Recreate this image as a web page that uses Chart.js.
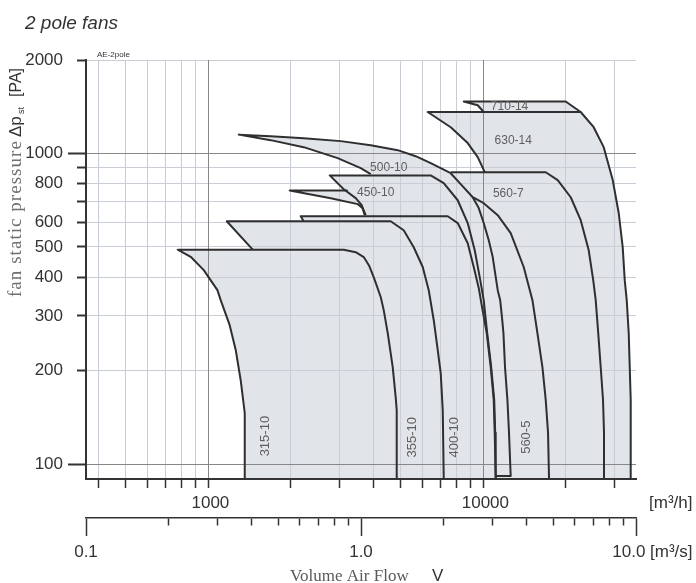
<!DOCTYPE html>
<html>
<head>
<meta charset="utf-8">
<title>2 pole fans</title>
<script src="https://cdn.jsdelivr.net/npm/chart.js@4.4.1/dist/chart.umd.min.js"></script>
<style>
  html, body { margin: 0; padding: 0; background: #ffffff; }
  #wrap { width: 696px; height: 583px; position: relative; }
</style>
</head>
<body>
<div id="wrap"><canvas id="chart" width="696" height="583"></canvas></div>
<script>
// ---- axis ticks -------------------------------------------------------
const flowTicks = [400, 500, 600, 700, 800, 900, 1000, 2000, 3000, 4000, 5000, 6000, 7000, 8000, 9000, 10000, 20000, 30000];
const flowTickLabels = { 1000: ' 1000', 10000: ' 10000' };
const flowSecondTicks = [0.1, 0.2, 0.3, 0.4, 0.5, 0.6, 0.7, 0.8, 0.9, 1, 2, 3, 4, 5, 6, 7, 8, 9, 10];
const flowSecondTickLabels = { 0.1: '0.1', 1: '1.0', 10: '10.0   ' };
const pressureTicks = [100, 200, 300, 400, 500, 600, 700, 800, 900, 1000, 2000];
const pressureTickLabels = { 100: '100', 200: '200', 300: '300', 400: '400', 500: '500', 600: '600', 800: '800', 1000: '1000', 2000: '2000' };

// ---- fan fields: [volume flow m³/h, static pressure Pa] ---------------
// stall = left limit from its tip downwards, curve = top edge + max curve
const fan315_10_stall = [[776, 490], [865, 465], [965, 421], [1082, 363], [1112, 337], [1199, 280], [1261, 233], [1315, 186], [1360, 146], [1360, 90]];
const fan315_10_curve = [[3115, 490], [3444, 481], [3684, 464], [3850, 436], [4004, 400], [4246, 345], [4354, 313], [4503, 264], [4695, 205], [4814, 164], [4855, 149], [4855, 90]];

const fan355_10_stall = [[1170, 605], [1454, 490]];
const fan355_10_curve = [[4617, 605], [5147, 566], [5598, 499], [6036, 431], [6347, 363], [6618, 291], [6844, 233], [7018, 196], [7138, 149], [7197, 90]];

const fan400_10_stall = [[2173, 628], [2228, 605]];
const fan400_10_curve = [[7441, 628], [8091, 597], [8798, 514], [9252, 431], [9647, 369], [9890, 325], [10315, 264], [10666, 205], [10936, 161], [11028, 126], [11121, 90]];

const fan450_10_stall = [[1982, 760], [2795, 718], [3503, 687], [3652, 667], [3745, 633]];
const fan450_10_topEnd = [3221, 760];
const fan450_10_curve = [[9174, 723], [9647, 667], [10058, 597], [10489, 526], [10846, 464], [11310, 363], [11547, 337], [11745, 291], [11865, 264], [12023, 205], [12266, 161], [12431, 126], [12609, 91.5], [11121, 91.5]];

const fan500_10_stall = [[2771, 850], [3115, 767], [3444, 718], [3622, 682], [3714, 633]];
const fan500_10_curve = [[6454, 850], [7197, 803], [8091, 707], [8798, 597], [9329, 488], [9727, 400], [10058, 337], [10358, 264], [10710, 205], [10983, 161], [11075, 126], [11121, 90]];

const fan560_5_stall = [[1293, 1150], [1690, 1104], [2228, 1048], [2962, 966], [3592, 897], [3905, 858]];
const fan560_5_curve = [[1293, 1150], [1690, 1137], [2228, 1120], [3038, 1096], [3905, 1063], [4896, 1025], [5692, 980], [6454, 931], [7018, 897], [7630, 864], [8297, 797], [9174, 723], [10058, 692], [11310, 633], [12609, 554], [14060, 431], [15125, 337], [15770, 264], [16444, 205], [16904, 161], [17237, 126], [17378, 90]];

const fan560_7_stall = [[7630, 870]];
const fan560_7_curve = [[16904, 870], [18690, 821], [20840, 723], [22660, 610], [24230, 488], [25160, 391], [25690, 337], [26240, 264], [26790, 205], [27310, 161], [27540, 126], [27540, 90]];

const fan630_14_stall = [[6294, 1360], [7630, 1215], [8798, 1080], [9566, 973], [10144, 871]];
const fan630_14_curve = [[22660, 1360], [25260, 1215], [27470, 1048], [29630, 821], [31160, 642], [32210, 499], [32760, 391], [33310, 337], [33870, 264], [34160, 205], [34440, 161], [34440, 90]];

const fan710_14_stall = [[8507, 1470], [9566, 1430], [10058, 1360]];
const fan710_14_curve = [[19980, 1470], [22660, 1360]];

const fanNames = ['315-10', '355-10', '400-10', '450-10', '500-10', '560-5', '560-7', '630-14', '710-14'];

// where each type designation is written: [name, flow, pressure, vertical]
const labelSpots = [
  ['315-10', 1621, 123, true],
  ['355-10', 5552, 122, true],
  ['400-10', 7846, 122, true],
  ['560-5', 14360, 122, true],
  ['450-10', 4072, 750, false],
  ['500-10', 4541, 897, false],
  ['560-7', 12350, 745, false],
  ['630-14', 12880, 1100, false],
  ['710-14', 12487, 1420, false]
];

// ---- build datasets ---------------------------------------------------
const fanTable = [
  [fan315_10_stall, fan315_10_curve, null],
  [fan355_10_stall, fan355_10_curve, null],
  [fan400_10_stall, fan400_10_curve, null],
  [fan450_10_stall, fan450_10_curve, fan450_10_topEnd],
  [fan500_10_stall, fan500_10_curve, null],
  [fan560_5_stall, fan560_5_curve, null],
  [fan560_7_stall, fan560_7_curve, null],
  [fan630_14_stall, fan630_14_curve, null],
  [fan710_14_stall, fan710_14_curve, null]
];

const FIELD_COLOR = '#e1e4e9';
const LINE_COLOR = '#2f2f2f';

function fieldShape(stall, curve, topEnd) {
  const pts = stall.slice().reverse().concat(topEnd ? [topEnd] : [], curve);
  const last = curve[curve.length - 1];
  if (last[1] < 100) pts.push([stall[stall.length - 1][0], last[1]]);
  return pts;
}
function fieldEdges(stall, curve, topEnd) {
  const back = stall.slice().reverse();
  return topEnd ? [back.concat([topEnd]), curve] : [back.concat(curve)];
}

const datasets = [];
fanTable.forEach((f, i) => {
  datasets.push({
    label: fanNames[i] + ' field',
    data: fieldShape(f[0], f[1], f[2]),
    fill: 'shape',
    backgroundColor: FIELD_COLOR,
    borderColor: 'transparent',
    borderWidth: 0,
    pointRadius: 0,
    tension: 0,
    order: 2
  });
});
fanTable.forEach((f, i) => {
  fieldEdges(f[0], f[1], f[2]).forEach(edge => {
    datasets.push({
      label: fanNames[i],
      data: edge,
      fill: false,
      borderColor: LINE_COLOR,
      borderWidth: 2,
      borderJoinStyle: 'round',
      pointRadius: 0,
      tension: 0,
      order: 1
    });
  });
});

// ---- helpers ----------------------------------------------------------
const SANS = '"Liberation Sans", Arial, Helvetica, sans-serif';
const SERIF = '"Liberation Serif", "Times New Roman", serif';
const GRID_LIGHT = '#c9ced6';
const GRID_DARK = '#878787';
const isMajorFlow = v => v === 1000 || v === 10000;
const isMajorPressure = v => v === 100 || v === 1000;
const isMajorSecond = v => v === 0.1 || v === 1 || v === 10;
const tickVal = c => (c && c.tick) ? c.tick.value : null;

function strokeGridOverFields(chart) {
  const { ctx, chartArea: a } = chart;
  const sx = chart.scales.x, sy = chart.scales.y;
  const lines = [];
  sx.ticks.forEach(t => lines.push({ v: true, p: sx.getPixelForValue(t.value), major: isMajorFlow(t.value) }));
  sy.ticks.forEach(t => lines.push({ v: false, p: sy.getPixelForValue(t.value), major: isMajorPressure(t.value) }));
  lines.sort((l1, l2) => (l1.major ? 1 : 0) - (l2.major ? 1 : 0));
  ctx.save();
  ctx.beginPath();
  ctx.rect(a.left, a.top, a.right - a.left, a.bottom - a.top);
  ctx.clip();
  ctx.lineWidth = 1;
  lines.forEach(l => {
    const p = Math.round(l.p - 0.5) + 0.5;
    ctx.strokeStyle = l.major ? GRID_DARK : GRID_LIGHT;
    ctx.beginPath();
    if (l.v) { ctx.moveTo(p, a.top); ctx.lineTo(p, a.bottom); }
    else { ctx.moveTo(a.left, p); ctx.lineTo(a.right, p); }
    ctx.stroke();
  });
  ctx.restore();
}

function spacedText(ctx, text, x, y, targetWidth) {
  ctx.letterSpacing = '0px';
  const w0 = ctx.measureText(text).width;
  const s = Math.max(0, (targetWidth - w0) / text.length);
  ctx.letterSpacing = s.toFixed(2) + 'px';
  ctx.fillText(text, x, y);
  ctx.letterSpacing = '0px';
}

const chartDecor = {
  id: 'chartDecor',
  afterDatasetDraw(chart, args) {
    // dataset 0 is the last field painted; grid goes over the fields, under the curves
    if (args.index === 0) strokeGridOverFields(chart);
  },
  afterDatasetsDraw(chart) {
    const { ctx } = chart;
    const sx = chart.scales.x, sy = chart.scales.y;
    ctx.save();
    ctx.fillStyle = '#5e5e5e';
    ctx.textAlign = 'center';
    ctx.textBaseline = 'middle';
    labelSpots.forEach(([name, q, p, vertical]) => {
      const x = sx.getPixelForValue(q), y = sy.getPixelForValue(p);
      if (vertical) {
        ctx.save();
        ctx.font = '13px ' + SANS;
        ctx.translate(x, y);
        ctx.rotate(-Math.PI / 2);
        ctx.fillText(name, 0, 0);
        ctx.restore();
      } else {
        ctx.font = '12px ' + SANS;
        ctx.fillText(name, x, y);
      }
    });
    ctx.restore();
  },
  afterDraw(chart) {
    const { ctx } = chart;
    ctx.save();
    ctx.textAlign = 'left';
    ctx.textBaseline = 'alphabetic';

    // heading
    ctx.fillStyle = '#333333';
    ctx.font = 'italic 19px ' + SANS;
    ctx.fillText('2 pole fans', 25, 29);

    ctx.font = '8px ' + SANS;
    ctx.fillText('AE-2pole', 97, 56.5);

    // unit tags of the two flow axes
    ctx.font = '17px ' + SANS;
    ctx.fillText('[m³/h]', 649, 508);
    ctx.fillText('[m³/s]', 650, 557);

    // flow axis title
    ctx.fillStyle = '#5a5a5a';
    ctx.font = '17px ' + SERIF;
    ctx.fillText('Volume Air Flow', 290, 581);
    ctx.fillStyle = '#333333';
    ctx.font = '17px ' + SANS;
    ctx.fillText('V', 432, 581);

    // pressure axis title
    ctx.translate(21, 297);
    ctx.rotate(-Math.PI / 2);
    ctx.fillStyle = '#707070';
    ctx.font = '19px ' + SERIF;
    spacedText(ctx, 'fan static pressure', 0, 0, 157);
    ctx.fillStyle = '#333333';
    ctx.font = '17px ' + SANS;
    ctx.fillText('\u0394p', 160, 0);
    ctx.font = '9px ' + SANS;
    ctx.fillText('st', 183, 3);
    ctx.font = '16px ' + SANS;
    ctx.fillText('[PA]', 200, 0);
    ctx.restore();
  }
};

// ---- chart ------------------------------------------------------------
Chart.defaults.font.family = SANS;
Chart.defaults.font.size = 17;
Chart.defaults.color = '#333333';

new Chart(document.getElementById('chart'), {
  type: 'line',
  data: { datasets },
  plugins: [chartDecor],
  options: {
    responsive: false,
    animation: false,
    events: [],
    layout: { padding: { top: 60, right: 60, bottom: 0, left: 0 } },
    plugins: { legend: { display: false }, tooltip: { enabled: false }, title: { display: false } },
    scales: {
      x: {
        type: 'logarithmic',
        position: 'bottom',
        weight: 0,
        min: 360,
        max: 36000,
        afterBuildTicks: s => { s.ticks = flowTicks.map(v => ({ value: v })); },
        afterFit: s => { s.height = 39; },
        ticks: {
          autoSkip: false, maxRotation: 0, minRotation: 0, padding: 5,
          color: '#333333', font: { size: 17 },
          callback: v => flowTickLabels[v] ?? ''
        },
        grid: {
          color: c => isMajorFlow(tickVal(c)) ? GRID_DARK : GRID_LIGHT,
          lineWidth: 1,
          tickLength: 9,
          tickColor: '#333333',
          tickWidth: 1.5
        },
        border: { display: true, color: '#333333', width: 2, z: 1 }
      },
      x2: {
        type: 'logarithmic',
        position: 'bottom',
        weight: 1,
        min: 0.1,
        max: 10,
        afterBuildTicks: s => { s.ticks = flowSecondTicks.map(v => ({ value: v })); },
        afterFit: s => { s.height = 65; },
        ticks: {
          autoSkip: false, maxRotation: 0, minRotation: 0, padding: 6,
          color: '#333333', font: { size: 17 },
          callback: v => flowSecondTickLabels[v] ?? ''
        },
        grid: {
          drawOnChartArea: false,
          tickLength: 18,
          tickColor: '#333333',
          tickWidth: 1.5,
          tickBorderDash: c => isMajorSecond(tickVal(c)) ? [] : [7, 40]
        },
        border: { display: true, color: '#333333', width: 1.5 }
      },
      y: {
        type: 'logarithmic',
        position: 'left',
        min: 89.5,
        max: 2000,
        afterBuildTicks: s => { s.ticks = pressureTicks.map(v => ({ value: v })); },
        afterFit: s => { s.width = 86; },
        ticks: {
          autoSkip: false, padding: 5,
          color: '#333333', font: { size: 17 },
          callback: v => pressureTickLabels[v] ?? ''
        },
        grid: {
          color: c => isMajorPressure(tickVal(c)) ? GRID_DARK : GRID_LIGHT,
          lineWidth: 1,
          tickLength: 18,
          tickColor: '#333333',
          tickWidth: 2,
          tickBorderDash: c => isMajorPressure(tickVal(c)) ? [] : [9, 9],
          tickBorderDashOffset: c => isMajorPressure(tickVal(c)) ? 0 : 9
        },
        border: { display: true, color: '#333333', width: 2, z: 1 }
      }
    }
  }
});
</script>
</body>
</html>
